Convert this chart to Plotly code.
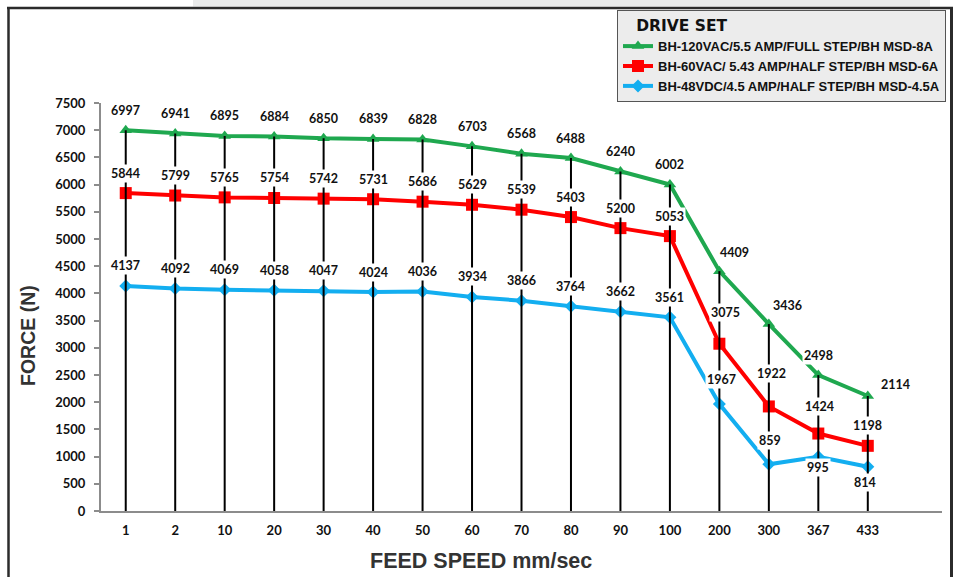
import plotly.graph_objects as go

# ---------------- data ----------------
speeds = ["1", "2", "10", "20", "30", "40", "50", "60", "70", "80",
          "90", "100", "200", "300", "367", "433"]
force_120vac = [6997, 6941, 6895, 6884, 6850, 6839, 6828, 6703, 6568, 6488,
                6240, 6002, 4409, 3436, 2498, 2114]
force_60vac = [5844, 5799, 5765, 5754, 5742, 5731, 5686, 5629, 5539, 5403,
               5200, 5053, 3075, 1922, 1424, 1198]
force_48vdc = [4137, 4092, 4069, 4058, 4047, 4024, 4036, 3934, 3866, 3764,
               3662, 3561, 1967, 859, 995, 814]
y_ticks = list(range(0, 7501, 500))
series_names = ["BH-120VAC/5.5 AMP/FULL STEP/BH MSD-8A",
                "BH-60VAC/ 5.43 AMP/HALF STEP/BH MSD-6A",
                "BH-48VDC/4.5 AMP/HALF STEP/BH MSD-4.5A"]
legend_title = "DRIVE SET"
x_title = "FEED SPEED mm/sec"
y_title = "FORCE (N)"

# ---------------- style ----------------
colors = ["#1fa84f", "#ff0000", "#13aef0"]
symbols = ["triangle-up", "square", "diamond"]
msizes = [11, 12, 10]
series = [force_120vac, force_60vac, force_48vdc]

# label offsets (pixels) where the default "above the point" is not used
label_shift = {
    (0, "200"): (15, 19), (0, "300"): (19, 19), (0, "433"): (28, 12),
    (1, "200"): (6, 31), (1, "300"): (3, 33), (1, "367"): (1, 27),
    (2, "200"): (2, 25), (2, "300"): (1, 24), (2, "367"): (0, -11),
    (2, "433"): (-3, -16),
}

# plot area in pixels (for paper-coordinate decorations)
W, H = 958, 577
L, R, T, B = 101, 942, 103, 511
PW, PH = R - L, B - T


def px(x):
    return (x - L) / PW


def py(y):
    return (B - y) / PH


fig = go.Figure()

for i, vals in enumerate(series):
    fig.add_trace(go.Scatter(
        x=speeds, y=vals, name="<b>" + series_names[i] + "</b>",
        mode="lines+markers",
        line=dict(color=colors[i], width=4),
        marker=dict(symbol=symbols[i], size=msizes[i], color=colors[i]),
        cliponaxis=False,
    ))

# black drop lines from the top series down to zero
dx, dy = [], []
for s, v in zip(speeds, force_120vac):
    dx += [s, s, None]
    dy += [0, v, None]
fig.add_trace(go.Scatter(x=dx, y=dy, mode="lines", showlegend=False,
                         hoverinfo="skip",
                         line=dict(color="#000000", width=2)))

annotations = []
for i, vals in enumerate(series):
    for k, (s, v) in enumerate(zip(speeds, vals)):
        xs, ys = label_shift.get((i, s), (0, 20))
        annotations.append(dict(
            x=k, y=v, xref="x", yref="y", text="<b>%d</b>" % v,
            showarrow=False, xshift=xs, yshift=ys,
            bgcolor="#ffffff", borderpad=1,
            font=dict(family="Lato", size=12.5, color="#111111"),
        ))

annotations.append(dict(
    x=px(481), y=py(561), xref="paper", yref="paper",
    text="<b>" + x_title + "</b>",
    showarrow=False, xanchor="center", yanchor="middle",
    font=dict(family="Liberation Sans", size=21.5, color="#333333"),
))
annotations.append(dict(
    x=px(28), y=py(336), xref="paper", yref="paper",
    text="<b>" + y_title + "</b>",
    showarrow=False, xanchor="center", yanchor="middle", textangle=-90,
    font=dict(family="Liberation Sans", size=19.5, color="#333333"),
))

shapes = [
    # light grey band at the top
    dict(type="rect", xref="paper", yref="paper",
         x0=px(193), x1=px(930), y0=py(0), y1=py(6.5),
         fillcolor="#e9eaea", line=dict(width=0), layer="below"),
    # outer frame
    dict(type="line", xref="paper", yref="paper",
         x0=px(7), x1=px(953), y0=py(8), y1=py(8),
         line=dict(color="#2b2b2b", width=2.5)),
    dict(type="line", xref="paper", yref="paper",
         x0=px(8.5), x1=px(8.5), y0=py(7), y1=py(590),
         line=dict(color="#2b2b2b", width=2.5)),
    dict(type="line", xref="paper", yref="paper",
         x0=px(951.5), x1=px(951.5), y0=py(7), y1=py(590),
         line=dict(color="#2b2b2b", width=3)),
]

fig.update_layout(
    width=W, height=H, autosize=False,
    margin=dict(l=L, r=W - R, t=T, b=H - B, autoexpand=False),
    paper_bgcolor="#ffffff", plot_bgcolor="#ffffff",
    showlegend=True,
    legend=dict(
        x=px(617), y=py(10), xanchor="left", yanchor="top",
        bgcolor="#ececec", bordercolor="#555555", borderwidth=1,
        title=dict(text="<b>   " + legend_title + "</b>",
                   font=dict(family="DejaVu Sans", size=15.5, color="#111111")),
        font=dict(family="Liberation Sans", size=13, color="#111111"),
        itemwidth=30, tracegroupgap=0,
    ),
    annotations=annotations,
    shapes=shapes,
    xaxis=dict(
        type="category", range=[-0.5, 16.5],
        showgrid=False, zeroline=False,
        showline=True, linecolor="#8c8c8c", linewidth=2,
        ticks="", ticklabelstandoff=6,
        tickfont=dict(family="Lato", size=13, color="#111111", weight="bold"),
    ),
    yaxis=dict(
        range=[0, 7500], tickvals=y_ticks,
        showgrid=False, zeroline=False,
        showline=True, linecolor="#8c8c8c", linewidth=2,
        ticks="outside", ticklen=5, tickwidth=2, tickcolor="#8c8c8c",
        ticklabelstandoff=6,
        tickfont=dict(family="Lato", size=13, color="#111111", weight="bold"),
    ),
)

fig.write_html(
    "out.html",
    config={"responsive": False, "displayModeBar": False},
    post_script="document.body.style.margin='0';"
                "document.body.style.overflow='hidden';",
)
